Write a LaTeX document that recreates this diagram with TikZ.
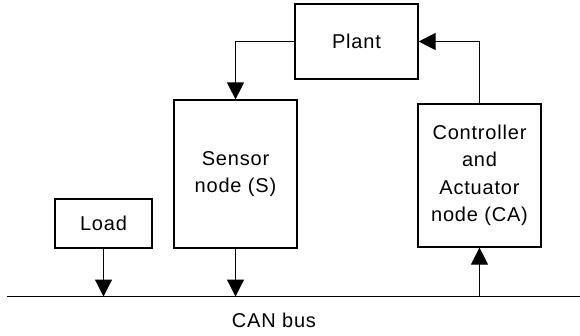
\documentclass[tikz,border=0pt]{standalone}
\usepackage{fontspec}
\setmainfont{Liberation Sans}[LetterSpace=4]
\usetikzlibrary{arrows.meta}

\tikzset{
  blk/.style={draw, line width=1.2pt, inner sep=0pt, align=center,
    font=\fontsize{20}{27.5}\selectfont},
  arr/.style={line width=1.2pt, -{Triangle[length=17pt,width=17pt]}}
}

\begin{document}
\begin{tikzpicture}[x=1pt,y=-1pt]
\useasboundingbox (0,0) rectangle (580,335);
% boxes
\node[blk, minimum width=123pt, minimum height=75pt] (plant) at (356.5,41.5) {Plant};
\node[blk, minimum width=123pt, minimum height=148pt] (sensor) at (235.5,174) {Sensor\\node (S)};
\node[blk, minimum width=123pt, minimum height=143pt] (ctrl) at (479.5,175.5) {Controller\\and\\Actuator\\node (CA)};
\node[blk, minimum width=97pt, minimum height=49pt] (load) at (103.5,223.5) {Load};
% CAN bus
\coordinate (busL) at (7,296.5);
\coordinate (busR) at (580,296.5);
\draw[line width=1.2pt] (busL) -- (busR);
\node[font=\fontsize{20}{24}\selectfont] (canbus) at (274,320) {CAN bus};
% arrows
\draw[arr] (plant.west) -| (sensor.north);
\draw[arr] (ctrl.north) |- (plant.east);
\draw[arr] (load.south) -- (load.south |- busL);
\draw[arr] (sensor.south) -- (sensor.south |- busL);
\draw[arr] (ctrl.south |- busL) -- (ctrl.south);
\end{tikzpicture}
\end{document}
